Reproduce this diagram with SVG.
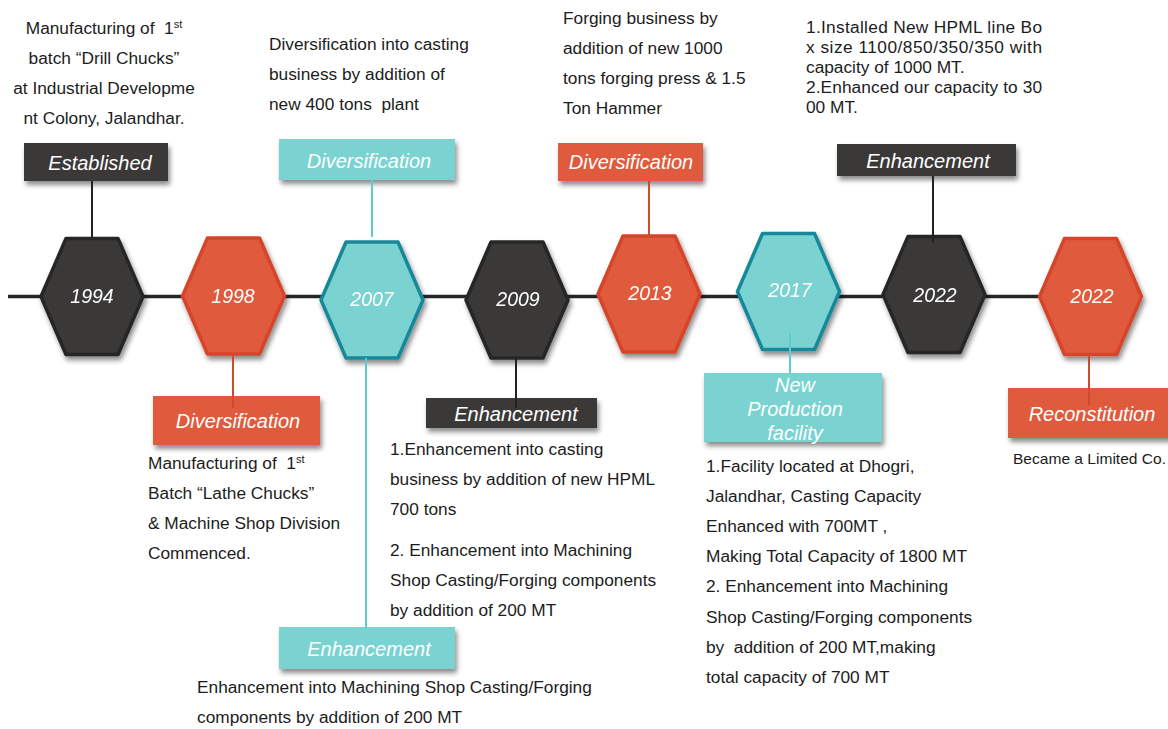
<svg xmlns="http://www.w3.org/2000/svg" xmlns:xlink="http://www.w3.org/1999/xlink" width="1168" height="729" viewBox="0 0 1168 729">
<style>
.body{font-family:"Liberation Sans",Arial,sans-serif;font-size:17.3px;fill:#1c1c1c}
.lbl{font-family:"Liberation Sans",Arial,sans-serif;font-size:20px;font-style:italic;fill:#ffffff;text-anchor:middle}
.yr{font-family:"Liberation Sans",Arial,sans-serif;font-size:19.5px;font-style:italic;fill:#ffffff;text-anchor:middle}
.dark{fill:#3b3839}
.red{fill:#e05a3c}
.teal{fill:#7ad3d0}
.hdark{fill:#3b3839;stroke:#262626;stroke-width:3.5;stroke-linejoin:round}
.hred{fill:#e05a3c;stroke:#d6452a;stroke-width:3.5;stroke-linejoin:round}
.hteal{fill:#7ad3d0;stroke:#17889a;stroke-width:3.5;stroke-linejoin:round}
.cd{stroke:#222222;stroke-width:2;fill:none}
.cr{stroke:#d24a2e;stroke-width:2;fill:none}
.ct{stroke:#5fcaca;stroke-width:2;fill:none}
.sup{font-size:11px}
</style>
<defs>
<filter id="sh" x="-20%" y="-20%" width="140%" height="160%">
<feDropShadow dx="2" dy="4" stdDeviation="2.5" flood-color="#000" flood-opacity="0.45"/>
</filter>
<polygon id="hex" points="-51,0 -26,-58 26,-58 51,0 26,58 -26,58"/>
</defs>
<rect width="1168" height="729" fill="#ffffff"/>

<g id="timeline">
<line x1="8" y1="296.5" x2="1040" y2="296.5" stroke="#262626" stroke-width="3.5"/>
</g>

<g id="hex-1994" filter="url(#sh)"><use xlink:href="#hex" href="#hex" x="92" y="296.5" class="hdark"/><text class="yr" x="92" y="303">1994</text></g>
<g id="hex-1998" filter="url(#sh)"><use xlink:href="#hex" href="#hex" x="233.5" y="296" class="hred"/><text class="yr" x="233" y="303">1998</text></g>
<g id="hex-2007" filter="url(#sh)"><use xlink:href="#hex" href="#hex" x="372" y="300" class="hteal"/><text class="yr" x="372" y="306">2007</text></g>
<g id="hex-2009" filter="url(#sh)"><use xlink:href="#hex" href="#hex" x="517" y="300" class="hdark"/><text class="yr" x="518" y="306">2009</text></g>
<g id="hex-2013" filter="url(#sh)"><use xlink:href="#hex" href="#hex" x="649" y="294" class="hred"/><text class="yr" x="650" y="300">2013</text></g>
<g id="hex-2017" filter="url(#sh)"><use xlink:href="#hex" href="#hex" x="788.5" y="291.5" class="hteal"/><text class="yr" x="790" y="297">2017</text></g>
<g id="hex-2022a" filter="url(#sh)"><use xlink:href="#hex" href="#hex" x="934" y="294.5" class="hdark"/><text class="yr" x="935" y="302">2022</text></g>
<g id="hex-2022b" filter="url(#sh)"><use xlink:href="#hex" href="#hex" x="1090.5" y="296.5" class="hred"/><text class="yr" x="1092" y="303">2022</text></g>

<g id="label-established"><rect x="24" y="143" width="144" height="38" class="dark" filter="url(#sh)"/><text class="lbl" x="100" y="170">Established</text></g>
<g id="label-div-2007"><rect x="279" y="139" width="176" height="41" class="teal" filter="url(#sh)"/><text class="lbl" x="369" y="168">Diversification</text></g>
<g id="label-div-2013"><rect x="558" y="143" width="145" height="38" class="red" filter="url(#sh)"/><text class="lbl" x="631" y="169">Diversification</text></g>
<g id="label-enh-2022"><rect x="837" y="144" width="179" height="32" class="dark" filter="url(#sh)"/><text class="lbl" x="928" y="168">Enhancement</text></g>
<g id="label-div-1998"><rect x="153" y="396" width="167" height="49" class="red" filter="url(#sh)"/><text class="lbl" x="238" y="428">Diversification</text></g>
<g id="label-enh-2009"><rect x="426" y="398" width="171" height="30" class="dark" filter="url(#sh)"/><text class="lbl" x="516" y="421">Enhancement</text></g>
<g id="label-enh-2007"><rect x="279" y="627" width="176" height="42" class="teal" filter="url(#sh)"/><text class="lbl" x="369" y="656">Enhancement</text></g>
<g id="label-npf-2017"><rect x="704" y="373" width="178" height="69" class="teal" filter="url(#sh)"/><text class="lbl" x="795" y="392">New</text><text class="lbl" x="795" y="416">Production</text><text class="lbl" x="795" y="440">facility</text></g>
<g id="label-recon-2022"><rect x="1008" y="388" width="165" height="50" class="red" filter="url(#sh)"/><text class="lbl" x="1092" y="421">Reconstitution</text></g>

<g id="connectors">
<line class="cd" x1="92" y1="181" x2="92" y2="238"/>
<line class="ct" x1="372" y1="180" x2="372" y2="237"/>
<line class="cr" x1="649" y1="181" x2="649" y2="235"/>
<line class="cd" x1="933" y1="176" x2="933" y2="243"/>
<line class="cr" x1="233" y1="355" x2="233" y2="408"/>
<line class="ct" x1="366" y1="358" x2="366" y2="627"/>
<line class="cd" x1="516" y1="358" x2="516" y2="408"/>
<line class="ct" x1="790" y1="333" x2="790" y2="373"/>
<line class="cr" x1="1089" y1="355" x2="1089" y2="405"/>
</g>

<g id="text-1994" class="body" text-anchor="middle">
<text x="104" y="34" xml:space="preserve">Manufacturing of  1<tspan class="sup" dy="-6">st</tspan></text>
<text x="104" y="64">batch “Drill Chucks”</text>
<text x="104" y="94">at Industrial Developme</text>
<text x="104" y="124">nt Colony, Jalandhar.</text>
</g>
<g id="text-2007-top" class="body">
<text x="269" y="50">Diversification into casting</text>
<text x="269" y="80">business by addition of</text>
<text x="269" y="110" xml:space="preserve">new 400 tons  plant</text>
</g>
<g id="text-2013" class="body">
<text x="563" y="24">Forging business by</text>
<text x="563" y="54">addition of new 1000</text>
<text x="563" y="84">tons forging press &amp; 1.5</text>
<text x="563" y="114">Ton Hammer</text>
</g>
<g id="text-2022-top" class="body">
<text x="806" y="33" textLength="236" lengthAdjust="spacing">1.Installed New HPML line Bo</text>
<text x="806" y="53" textLength="236" lengthAdjust="spacing">x size 1100/850/350/350 with</text>
<text x="806" y="73">capacity of 1000 MT.</text>
<text x="806" y="93" textLength="236" lengthAdjust="spacing">2.Enhanced our capacity to 30</text>
<text x="806" y="113">00 MT.</text>
</g>
<g id="text-1998" class="body">
<text x="148" y="469" xml:space="preserve">Manufacturing of  1<tspan class="sup" dy="-6">st</tspan></text>
<text x="148" y="499">Batch “Lathe Chucks”</text>
<text x="148" y="529">&amp; Machine Shop Division</text>
<text x="148" y="559">Commenced.</text>
</g>
<g id="text-2009" class="body">
<text x="390" y="455">1.Enhancement into casting</text>
<text x="390" y="485">business by addition of new HPML</text>
<text x="390" y="515">700 tons</text>
<text x="390" y="556">2. Enhancement into Machining</text>
<text x="390" y="586">Shop Casting/Forging components</text>
<text x="390" y="616">by addition of 200 MT</text>
</g>
<g id="text-2007-bottom" class="body">
<text x="197" y="693">Enhancement into Machining Shop Casting/Forging</text>
<text x="197" y="723">components by addition of 200 MT</text>
</g>
<g id="text-2017" class="body">
<text x="706" y="472">1.Facility located at Dhogri,</text>
<text x="706" y="502">Jalandhar, Casting Capacity</text>
<text x="706" y="532">Enhanced with 700MT ,</text>
<text x="706" y="562">Making Total Capacity of 1800 MT</text>
<text x="706" y="592">2. Enhancement into Machining</text>
<text x="706" y="623">Shop Casting/Forging components</text>
<text x="706" y="653" xml:space="preserve">by  addition of 200 MT,making</text>
<text x="706" y="683">total capacity of 700 MT</text>
</g>
<g id="text-2022-bottom" class="body">
<text x="1013" y="464" style="font-size:15px" textLength="153" lengthAdjust="spacingAndGlyphs">Became a Limited Co.</text>
</g>
</svg>
